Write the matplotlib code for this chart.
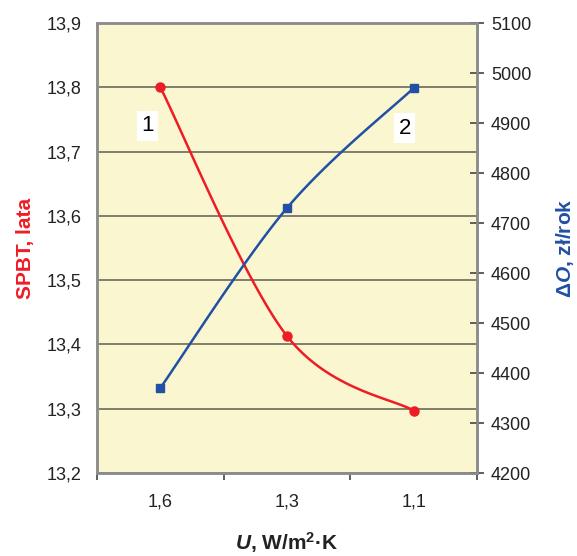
import numpy as np
import matplotlib
matplotlib.use("Agg")
import matplotlib.pyplot as plt
from matplotlib.ticker import FixedLocator

plt.rcParams['font.family'] = ['Liberation Sans', 'DejaVu Sans']
plt.rcParams['mathtext.fontset'] = 'custom'
plt.rcParams['mathtext.rm'] = 'Liberation Sans:bold'
plt.rcParams['mathtext.bf'] = 'Liberation Sans:bold'
plt.rcParams['mathtext.it'] = 'Liberation Sans:italic:bold'
plt.rcParams['mathtext.sf'] = 'Liberation Sans:bold'

categories = ['1,6', '1,3', '1,1']
spbt = [13.80, 13.413, 13.297]
delta_o = [4370, 4730, 4970]
left_ticks = [13.2, 13.3, 13.4, 13.5, 13.6, 13.7, 13.8, 13.9]
right_ticks = [4200, 4300, 4400, 4500, 4600, 4700, 4800, 4900, 5000, 5100]

RED = '#ee1c25'
BLUE = '#2150a4'
BG = '#faf7d0'
SPINE = '#8c8c8c'
GRID = '#5f5e50'


def smooth(xs, ys, n=60):
    xs = np.asarray(xs, float)
    ys = np.asarray(ys, float)
    P = np.column_stack([xs, ys])
    out = []
    for i in range(len(P) - 1):
        p0 = P[i - 1] if i > 0 else P[i]
        p1 = P[i]
        p2 = P[i + 1]
        p3 = P[i + 2] if i + 2 < len(P) else P[i + 1]
        c1 = p1 + (p2 - p0) / 6.0
        c2 = p2 - (p3 - p1) / 6.0
        t = np.linspace(0, 1, n)[:, None]
        seg = ((1 - t) ** 3) * p1 + 3 * ((1 - t) ** 2) * t * c1 + 3 * (1 - t) * t ** 2 * c2 + t ** 3 * p2
        out.append(seg if i == 0 else seg[1:])
    s = np.vstack(out)
    return s[:, 0], s[:, 1]


fig = plt.figure(figsize=(5.77, 5.56), dpi=100)
ax = fig.add_axes([97 / 577, 1 - 473 / 556, 380 / 577, 450 / 556])
ax2 = ax.twinx()

ax.set_facecolor(BG)
x = np.arange(len(categories))
ax.set_xlim(-0.5, len(categories) - 0.5)
ax.set_ylim(13.2, 13.9)
ax2.set_ylim(4200, 5100)

ax.set_yticks(left_ticks)
ax.set_yticklabels([f"{v:.1f}".replace('.', ',') for v in left_ticks], fontsize=13, color='#222222')
ax.tick_params(axis='y', length=0, pad=11)
ax.yaxis.grid(True, color=GRID, linewidth=1.1)
ax.set_axisbelow(True)

ax.set_xticks(x)
ax.set_xticklabels(categories, fontsize=13, color='#222222')
ax.tick_params(axis='x', which='major', length=0, pad=15)
ax.xaxis.set_minor_locator(FixedLocator(np.arange(-0.5, len(categories), 1.0)))
ax.tick_params(axis='x', which='minor', length=5, width=1.2, color='#444444', direction='out')

ax2.set_yticks(right_ticks)
ax2.set_yticklabels([str(v) for v in right_ticks], fontsize=13, color='#222222')
ax2.tick_params(axis='y', direction='inout', length=10, width=1.2, color='#444444', pad=5)

for a in (ax, ax2):
    for s in a.spines.values():
        s.set_color(SPINE)
        s.set_linewidth(1.8)

sx, sy = smooth(x, spbt)
ax.plot(sx, sy, color=RED, linewidth=1.8, zorder=3)
ax.plot(x, spbt, 'o', color=RED, markersize=6.5, zorder=4)

bx, by = smooth(x, delta_o)
ax2.plot(bx, by, color=BLUE, linewidth=1.8, zorder=3)
ax2.plot(x, delta_o, 's', color=BLUE, markersize=6, zorder=4)

ax.text(-0.1, 13.74, '1', fontsize=16, ha='center', va='center',
        bbox=dict(facecolor='white', edgecolor='none', pad=3), zorder=5)
ax2.text(1.93, 4890, '2', fontsize=16, ha='center', va='center',
         bbox=dict(facecolor='white', edgecolor='none', pad=3), zorder=5)

fig.text(25 / 577, 1 - 248 / 556, 'SPBT, lata', rotation=90, color=RED, fontsize=15,
         fontweight='bold', ha='center', va='center')
fig.text(565 / 577, 1 - 248 / 556, r'$\Delta\mathit{O}$, zł/rok', rotation=90, color=BLUE,
         fontsize=15, fontweight='bold', ha='center', va='center')
fig.text(287 / 577, 1 - 543 / 556, r'$\mathit{U}$, W/m$^{2}$·K', color='#222222',
         fontsize=15, fontweight='bold', ha='center', va='center')

fig.savefig('out.png', dpi=100)
